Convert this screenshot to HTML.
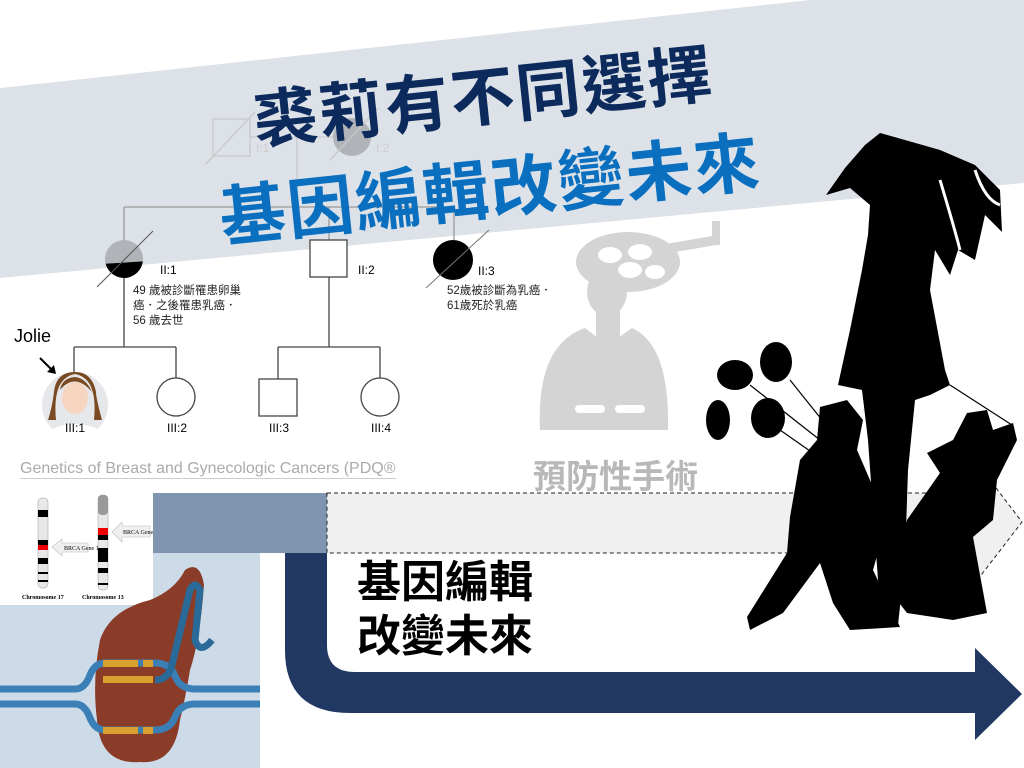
<!DOCTYPE html>
<html><head><meta charset="utf-8"><style>
body{margin:0;width:1024px;height:768px;overflow:hidden;background:#fff;position:relative;font-family:"Liberation Sans","Noto Sans CJK TC",sans-serif}
.abs{position:absolute}
.t{position:absolute;white-space:nowrap;font-family:"Liberation Sans","Noto Sans CJK TC",sans-serif}
</style></head><body>
<svg class="abs" style="left:0;top:0" width="1024" height="768" viewBox="0 0 1024 768">
<polygon points="0,88 810,0 1024,0 1024,183 0,278" fill="#dde2e8"/>
<g stroke="#c8c8c8" stroke-width="1.3" fill="none">
<rect x="213" y="119" width="37" height="37"/>
<line x1="205" y1="165" x2="255" y2="112"/>
<line x1="250" y1="137" x2="333" y2="137"/>
<line x1="297" y1="137" x2="297" y2="207"/>
</g>
<circle cx="352" cy="137" r="19" fill="#b0b3b8"/>
<line x1="330" y1="160" x2="378" y2="108" stroke="#c8c8c8" stroke-width="1.3"/>
<g stroke="#999" stroke-width="1.3" fill="none">
<line x1="124" y1="207" x2="454" y2="207"/>
<line x1="124" y1="207" x2="124" y2="240"/>
<line x1="329" y1="207" x2="329" y2="240"/>
<line x1="454" y1="207" x2="454" y2="240"/>
</g>
<g stroke="#444" stroke-width="1.3" fill="none">
<line x1="124" y1="278" x2="124" y2="347"/>
<line x1="74" y1="347" x2="176" y2="347"/>
<line x1="74" y1="347" x2="74" y2="375"/>
<line x1="176" y1="347" x2="176" y2="378"/>
<line x1="329" y1="277" x2="329" y2="347"/>
<line x1="278" y1="347" x2="380" y2="347"/>
<line x1="278" y1="347" x2="278" y2="379"/>
<line x1="380" y1="347" x2="380" y2="378"/>
<rect x="310" y="240" width="37" height="37" fill="#fff"/>
<circle cx="176" cy="397" r="19" fill="#fff"/>
<rect x="259" y="379" width="38" height="37" fill="#fff"/>
<circle cx="380" cy="397" r="19" fill="#fff"/>
</g>
<clipPath id="c1"><circle cx="124" cy="259" r="19"/></clipPath>
<circle cx="124" cy="259" r="19" fill="#b0b3b8"/>
<polygon points="100,264 150,261 150,282 100,282" fill="#000" clip-path="url(#c1)"/>
<line x1="97" y1="287" x2="153" y2="231" stroke="#555" stroke-width="1"/>
<circle cx="453" cy="260" r="20" fill="#000"/>
<line x1="426" y1="288" x2="489" y2="230" stroke="#777" stroke-width="1"/>
<circle cx="75" cy="405" r="33" fill="#e6e7ea"/>
<path d="M56,420 Q52,378 75,374 Q98,378 94,420 L102,420 Q96,398 96,392 Q92,372 75,372 Q56,372 54,392 Q52,408 48,420Z" fill="#7a4a22"/>
<ellipse cx="75" cy="398" rx="13" ry="16" fill="#f5d5c0"/>
<path d="M60,390 Q75,372 92,392 Q86,378 75,377 Q62,378 60,390Z" fill="#7a4a22"/>
<path d="M50,430 Q75,418 100,430 L100,438 L50,438Z" fill="#fff"/>
<line x1="40" y1="358" x2="53" y2="371" stroke="#000" stroke-width="2"/>
<polygon points="56,374 47,372 54,365" fill="#000"/>
<g fill="#d4d4d4">
<rect x="712" y="221" width="8" height="24"/>
<polygon points="660,245 712,236 716,245 664,254"/>
<ellipse cx="628" cy="262" rx="52" ry="30"/>
<path d="M540,430 Q536,345 585,328 L598,338 L618,338 L632,328 Q670,345 668,430Z"/>
<rect x="596" y="310" width="24" height="30"/>
</g>
<g fill="#fff"><ellipse cx="610" cy="255" rx="12" ry="8"/><ellipse cx="640" cy="252" rx="12" ry="8"/><ellipse cx="630" cy="270" rx="12" ry="8"/><ellipse cx="655" cy="272" rx="10" ry="7"/></g>
<ellipse cx="607" cy="292" rx="20" ry="24" fill="#d4d4d4"/>
<g fill="#fff"><rect x="575" y="405" width="30" height="8" rx="4"/><rect x="615" y="405" width="30" height="8" rx="4"/></g>
<rect x="0" y="605" width="260" height="163" fill="#cddbe8"/>
<rect x="153" y="553" width="107" height="60" fill="#cddbe8"/>
<path d="M100,640 Q110,610 150,600 Q175,590 185,570 Q200,560 204,585 Q200,640 190,670 Q185,700 180,720 Q175,765 140,762 Q100,765 97,720 Q92,680 100,640Z" fill="#8a3c28"/>
<g stroke="#3a7fb5" stroke-width="7" fill="none">
<path d="M0,689 L75,689 Q85,689 90,675 Q95,663 105,663 L155,663"/>
<path d="M0,704 L75,704 Q85,704 90,718 Q95,730 105,730 L155,730"/>
<path d="M155,663 Q170,663 175,676 Q180,689 195,689 L260,689"/>
<path d="M155,730 Q170,730 175,717 Q180,704 195,704 L260,704"/>
<path d="M155,680 Q168,680 172,665 L190,590 Q195,580 200,590 L195,640 Q200,655 212,640" stroke="#2a6a98"/>
</g>
<g fill="#d9a030"><rect x="103" y="660" width="35" height="7"/><rect x="143" y="660" width="10" height="7"/><rect x="103" y="676" width="50" height="7"/><rect x="103" y="727" width="35" height="7"/><rect x="143" y="727" width="10" height="7"/></g>
<rect x="38" y="498" width="10" height="90" rx="4" fill="#e8e8e8" stroke="#999" stroke-width=".5"/>
<g fill="#000"><rect x="38" y="510" width="10" height="7"/><rect x="38" y="540" width="10" height="5"/><rect x="38" y="558" width="10" height="6"/><rect x="38" y="572" width="10" height="2"/><rect x="38" y="580" width="10" height="2"/></g>
<rect x="38" y="545" width="10" height="5" fill="#e00"/>
<polygon points="52,547 62,539 62,543 88,543 88,552 62,552 62,556" fill="#f0f0f0" stroke="#bbb" stroke-width=".6"/>
<text x="64" y="550" font-size="6" font-family="Liberation Serif">BRCA Gene 1</text>
<rect x="98" y="495" width="10" height="95" rx="4" fill="#e8e8e8" stroke="#999" stroke-width=".5"/>
<rect x="98" y="495" width="10" height="20" rx="4" fill="#999"/>
<g fill="#000"><rect x="98" y="535" width="10" height="5"/><rect x="98" y="548" width="10" height="14"/><rect x="98" y="568" width="10" height="5"/><rect x="98" y="583" width="10" height="2"/></g>
<rect x="98" y="528" width="10" height="7" fill="#e00"/>
<polygon points="112,532 122,522 122,526 150,526 150,537 122,537 122,542" fill="#f0f0f0" stroke="#bbb" stroke-width=".6"/>
<text x="123" y="534" font-size="6" font-family="Liberation Serif">BRCA Gene 2</text>
<text x="22" y="599" font-size="6" font-weight="bold" font-family="Liberation Serif">Chromosome 17</text>
<text x="82" y="599" font-size="6" font-weight="bold" font-family="Liberation Serif">Chromosome 13</text>
<rect x="153" y="493" width="174" height="60" fill="#8096b0"/>
<path d="M327,493 L990,493 L990,480 L1022,522 L975,583 L975,553 L327,553Z" fill="#f0f0f0" stroke="#222" stroke-width="1" stroke-dasharray="4,3"/>
<path d="M285,553 L327,553 L327,645 Q327,672 355,672 L975,672 L975,648 L1022,694 L975,740 L975,713 L350,713 Q285,713 285,650Z" fill="#213862"/>
<g fill="#000">
<polygon points="880,133 905,140 940,150 975,165 1000,190 1002,232 985,215 975,260 958,250 950,275 935,250 930,290 945,370 950,385 930,395 915,400 908,470 905,560 898,625 885,627 878,580 868,440 862,390 838,385 850,330 862,270 868,235 870,205 850,188 826,195 845,168 865,145"/>
<polygon points="820,407 847,400 863,420 857,450 873,487 887,520 873,570 900,627 850,630 833,603 820,563 783,613 750,630 747,617 787,553 790,517 800,460 817,440"/>
<polygon points="967,413 987,410 993,430 1013,423 1017,440 997,480 993,520 973,537 987,613 953,620 907,613 887,587 907,520 940,473 927,453 953,440"/>
<ellipse cx="735" cy="375" rx="18" ry="15"/><ellipse cx="776" cy="362" rx="16" ry="20"/>
<ellipse cx="768" cy="418" rx="17" ry="20"/><ellipse cx="718" cy="420" rx="12" ry="20"/>
</g>
<g stroke="#fff" stroke-width="3" fill="none"><path d="M975,170 Q985,200 1000,205"/><path d="M940,180 Q955,230 960,250"/></g>
<g stroke="#000" stroke-width="1.2" fill="none"><line x1="750" y1="385" x2="820" y2="440"/><line x1="790" y1="380" x2="830" y2="430"/><line x1="780" y1="430" x2="880" y2="500"/><line x1="950" y1="385" x2="1012" y2="425"/></g>
</svg>
<div class="t" style="left:483px;top:93px;transform:translate(-50%,-50%) rotate(-6deg);font-size:64px;font-weight:bold;color:#0d2a5c;letter-spacing:2px">裘莉有不同選擇</div>
<div class="t" style="left:490px;top:185px;transform:translate(-50%,-50%) rotate(-6deg);font-size:66px;font-weight:bold;color:#0b6fbf;letter-spacing:2px">基因編輯改變未來</div>
<div class="t" style="left:256px;top:141px;font-size:12px;color:#ccc">I:1</div>
<div class="t" style="left:376px;top:141px;font-size:12px;color:#ccc">I:2</div>
<div class="t" style="left:160px;top:263px;font-size:12px">II:1</div>
<div class="t" style="left:358px;top:263px;font-size:12px">II:2</div>
<div class="t" style="left:478px;top:264px;font-size:12px">II:3</div>
<div class="t" style="left:133px;top:284px;font-size:11.5px;line-height:15px;color:#222">49 歲被診斷罹患卵巢<br>癌．之後罹患乳癌．<br>56 歲去世</div>
<div class="t" style="left:447px;top:284px;font-size:11.5px;line-height:15px;color:#222">52歲被診斷為乳癌．<br>61歲死於乳癌</div>
<div class="t" style="left:14px;top:326px;font-size:18px">Jolie</div>
<div class="t" style="left:65px;top:421px;font-size:12px">III:1</div>
<div class="t" style="left:167px;top:421px;font-size:12px">III:2</div>
<div class="t" style="left:269px;top:421px;font-size:12px">III:3</div>
<div class="t" style="left:371px;top:421px;font-size:12px">III:4</div>
<div class="t" style="left:20px;top:460px;font-size:16px;color:#aaa;border-bottom:1px solid #ccc">Genetics of Breast and Gynecologic Cancers (PDQ®</div>
<div class="t" style="left:533px;top:450px;font-size:33px;color:#b8b8b8;font-weight:bold">預防性手術</div>
<div class="t" style="left:357px;top:556px;font-size:44px;line-height:54px;color:#000;font-weight:bold">基因編輯<br>改變未來</div>
</body></html>
